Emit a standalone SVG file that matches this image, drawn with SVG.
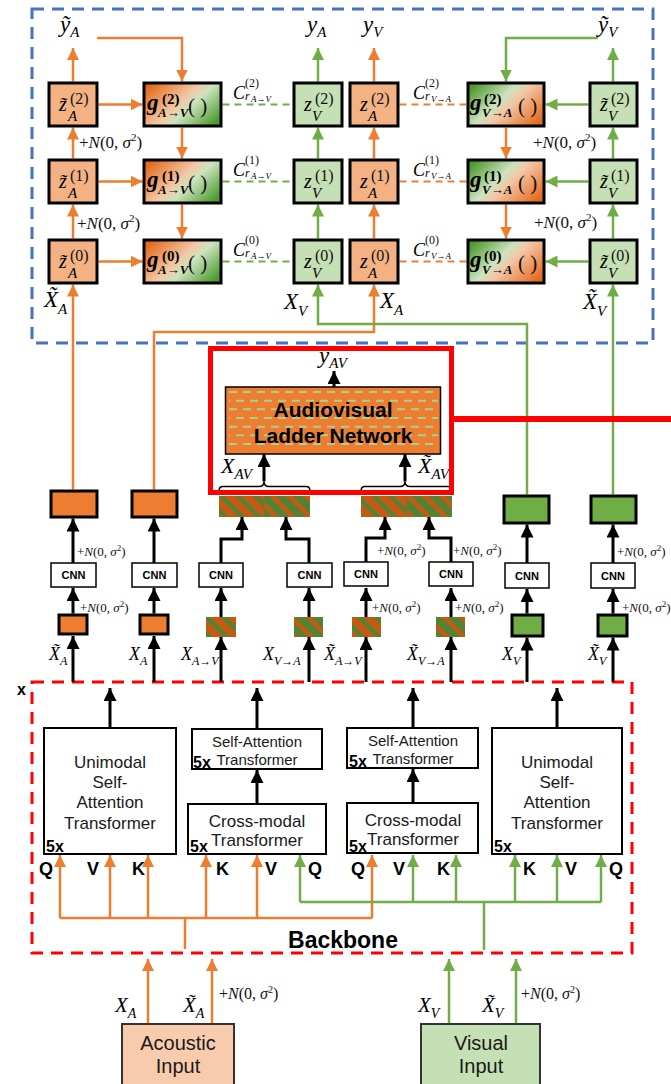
<svg xmlns="http://www.w3.org/2000/svg" width="671" height="1084" viewBox="0 0 671 1084">
<defs>
<style>
.m{font-family:"Liberation Serif","DejaVu Serif",serif;font-style:italic;fill:#000}
.pn{font-family:"Liberation Serif","DejaVu Serif",serif;font-style:normal;fill:#111}
.gb{font-family:"Liberation Serif","DejaVu Serif",serif;font-weight:bold;fill:#000}
.i{font-style:italic}
.s{font-family:"Liberation Sans",Arial,sans-serif;fill:#1a1a1a}
.sb{font-family:"Liberation Sans",Arial,sans-serif;font-weight:bold;fill:#000}
.bo{fill:#F4B183;stroke:#000;stroke-width:3}
.bg{fill:#C5E0B4;stroke:#000;stroke-width:3}
.so{fill:#ED7D31;stroke:#000;stroke-width:3}
.sg{fill:#70AD47;stroke:#000;stroke-width:3}
.lo{stroke:#ED7D31;stroke-width:2.5;fill:none;marker-end:url(#mo)}
.lg{stroke:#70AD47;stroke-width:2.5;fill:none;marker-end:url(#mg)}
.lon{stroke:#ED7D31;stroke-width:2.5;fill:none}
.lgn{stroke:#70AD47;stroke-width:2.5;fill:none}
.lk{stroke:#000;stroke-width:3;fill:none;marker-end:url(#mk)}
.do{stroke:#ED7D31;stroke-width:2;stroke-dasharray:7 5;fill:none}
.dg{stroke:#70AD47;stroke-width:2;stroke-dasharray:7 5;fill:none}
.cnn{fill:#fff;stroke:#000;stroke-width:1.5}
.tb{fill:#fff;stroke:#000;stroke-width:2}
.avd{stroke:#A9D18E;stroke-width:2;stroke-dasharray:8 6;fill:none}
</style>
<marker id="mo" viewBox="0 0 10 10" refX="10" refY="5" markerWidth="12" markerHeight="12" markerUnits="userSpaceOnUse" orient="auto"><path d="M0,0L10,5L0,10z" fill="#ED7D31"/></marker>
<marker id="mg" viewBox="0 0 10 10" refX="10" refY="5" markerWidth="12" markerHeight="12" markerUnits="userSpaceOnUse" orient="auto"><path d="M0,0L10,5L0,10z" fill="#70AD47"/></marker>
<marker id="mk" viewBox="0 0 10 10" refX="10" refY="5" markerWidth="13" markerHeight="13" markerUnits="userSpaceOnUse" orient="auto"><path d="M0,0L10,5L0,10z" fill="#000"/></marker>
<linearGradient id="gAV" x1="0" y1="0.2" x2="1" y2="0.8">
<stop offset="0" stop-color="#E46C1E"/><stop offset="0.45" stop-color="#F3C7A6"/><stop offset="0.6" stop-color="#CDE3BF"/><stop offset="1" stop-color="#4E9A2E"/>
</linearGradient>
<linearGradient id="gVA" x1="0" y1="0.2" x2="1" y2="0.8">
<stop offset="0" stop-color="#4E9A2E"/><stop offset="0.4" stop-color="#CDE3BF"/><stop offset="0.55" stop-color="#F3C7A6"/><stop offset="1" stop-color="#E46C1E"/>
</linearGradient>
<pattern id="pso" width="12" height="12" patternUnits="userSpaceOnUse" patternTransform="rotate(45)"><rect width="12" height="12" fill="#C55A11"/><rect width="12" height="4.5" fill="#548235"/></pattern>
<pattern id="psg" width="12" height="12" patternUnits="userSpaceOnUse" patternTransform="rotate(45)"><rect width="12" height="12" fill="#548235"/><rect width="12" height="4.5" fill="#C55A11"/></pattern>
</defs>
<rect width="671" height="1084" fill="#fff"/>

<!-- frames -->
<g id="ladder-frame"><rect x="32" y="9" width="621" height="334" fill="none" stroke="#4472C4" stroke-width="3" stroke-dasharray="12 8"/></g>
<g id="backbone-frame"><rect x="32" y="682" width="600" height="271" fill="none" stroke="#FF0000" stroke-width="3" stroke-dasharray="12 8"/>
<text class="sb" x="17" y="695" font-size="16">x</text>
<text class="sb" x="343" y="948" font-size="23" text-anchor="middle">Backbone</text></g>

<!-- connectors -->
<g id="connectors">
<path class="lo" d="M73,238.5V204.5"/><path class="lo" d="M73,158.5V127.5"/><path class="lo" d="M73,81.5V48"/>
<path class="lo" d="M73,489.5V284.5"/>
<path class="lo" d="M98.5,104.5H142.5"/><path class="lo" d="M98.5,181.5H142.5"/><path class="lo" d="M98.5,261.5H142.5"/>
<path class="lo" d="M97,38H182V81.5"/>
<path class="lo" d="M182,127.5V158.5"/><path class="lo" d="M182,204.5V238.5"/>
<path class="lo" d="M374,238.5V204.5"/><path class="lo" d="M374,158.5V127.5"/><path class="lo" d="M374,81.5V48"/>
<path class="lo" d="M154,489.5V332H374V284.5"/>
<path class="lo" d="M506,127.5V158.5"/><path class="lo" d="M506,204.5V238.5"/>
<path class="lg" d="M318,238.5V204.5"/><path class="lg" d="M318,158.5V127.5"/><path class="lg" d="M318,81.5V48"/>
<path class="lg" d="M527,494.5V324H318V284.5"/>
<path class="lg" d="M598,38H506V81.5"/>
<path class="lg" d="M588.5,104.5H545.5"/><path class="lg" d="M588.5,181.5H545.5"/><path class="lg" d="M588.5,261.5H545.5"/>
<path class="lg" d="M613,238.5V204.5"/><path class="lg" d="M613,158.5V127.5"/><path class="lg" d="M613,81.5V48"/>
<path class="lg" d="M613,494.5V284.5"/>
<path class="dg" d="M222.5,104.5H292.5"/><path class="dg" d="M222.5,181.5H292.5"/><path class="dg" d="M222.5,261.5H292.5"/>
<path class="do" d="M399.5,104.5H466.5"/><path class="do" d="M399.5,181.5H466.5"/><path class="do" d="M399.5,261.5H466.5"/>
<path class="lk" d="M334,387V371"/>
<path class="lk" d="M264,481.5V454"/><path class="lk" d="M405,481.5V454"/>
<path d="M219,491Q219,486.5 223,486.5H259Q264,486.5 264,481.5Q264,486.5 269,486.5H306Q310,486.5 310,491" fill="none" stroke="#000" stroke-width="1.5"/>
<path d="M361,491Q361,486.5 365,486.5H400Q405,486.5 405,481.5Q405,486.5 410,486.5H448Q452,486.5 452,491" fill="none" stroke="#000" stroke-width="1.5"/>
<path class="lk" d="M73,682V636"/><path class="lk" d="M73,613.5V588"/><path class="lk" d="M73,563V518.5"/>
<path class="lk" d="M154,682V636"/><path class="lk" d="M154,613.5V588"/><path class="lk" d="M154,563V518.5"/>
<path class="lk" d="M221,682V637"/><path class="lk" d="M221,617V588"/><path class="lk" d="M221,563V539H242V517"/>
<path class="lk" d="M309,682V637"/><path class="lk" d="M309,617V588"/><path class="lk" d="M309,563V539H286V517"/>
<path class="lk" d="M366,682V637"/><path class="lk" d="M366,617V588"/><path class="lk" d="M366,563V538H385V517"/>
<path class="lk" d="M451,682V637"/><path class="lk" d="M451,617V588"/><path class="lk" d="M451,563V538H429V517"/>
<path class="lk" d="M527,682V637.5"/><path class="lk" d="M527,613.5V589"/><path class="lk" d="M527,563V524.5"/>
<path class="lk" d="M613,682V637.5"/><path class="lk" d="M613,613.5V589"/><path class="lk" d="M613,563V524.5"/>
<path class="lk" d="M110,727V688"/><path class="lk" d="M257,728V688"/><path class="lk" d="M257,803V770"/>
<path class="lk" d="M413,727V688"/><path class="lk" d="M413,802V769"/><path class="lk" d="M557,727V688"/>
<path class="lon" d="M185,949V918M60,918H372"/>
<path class="lo" d="M60,918V855"/><path class="lo" d="M110,918V855"/><path class="lo" d="M148,918V855"/><path class="lo" d="M206,918V855"/><path class="lo" d="M257,918V855"/><path class="lo" d="M372,918V855"/>
<path class="lgn" d="M484,950V902M300,902H601"/>
<path class="lg" d="M300,902V855"/><path class="lg" d="M413,902V855"/><path class="lg" d="M456,902V855"/><path class="lg" d="M515,902V855"/><path class="lg" d="M557,902V855"/><path class="lg" d="M601,902V855"/>
<path class="lo" d="M148,1023V959"/><path class="lo" d="M212,1023V959"/>
<path class="lg" d="M449,1023V959"/><path class="lg" d="M516,1023V959"/>
</g>

<g id="ladder-labels">
<text class="m" x="60" y="32" font-size="23">ỹ<tspan font-size="15" dy="5">A</tspan></text>
<text class="m" x="307" y="32" font-size="23">y<tspan font-size="15" dy="5">A</tspan></text>
<text class="m" x="363" y="32" font-size="23">y<tspan font-size="15" dy="5">V</tspan></text>
<text class="m" x="598" y="32" font-size="23">ỹ<tspan font-size="15" dy="5">V</tspan></text>
<text class="m" x="44" y="307" font-size="23">X&#x303;<tspan font-size="15" dy="7">A</tspan></text>
<text class="m" x="284" y="309" font-size="23">X<tspan font-size="15" dy="7">V</tspan></text>
<text class="m" x="380" y="308" font-size="23">X<tspan font-size="15" dy="7">A</tspan></text>
<text class="m" x="583" y="309" font-size="23">X&#x303;<tspan font-size="15" dy="7">V</tspan></text>
<text class="pn" x="79" y="148" font-size="17">+<tspan class="i">N</tspan>(0, <tspan class="i">σ</tspan><tspan font-size="11" dy="-7">2</tspan><tspan dy="7">)</tspan></text>
<text class="pn" x="77" y="229" font-size="17">+<tspan class="i">N</tspan>(0, <tspan class="i">σ</tspan><tspan font-size="11" dy="-7">2</tspan><tspan dy="7">)</tspan></text>
<text class="pn" x="533" y="148" font-size="17">+<tspan class="i">N</tspan>(0, <tspan class="i">σ</tspan><tspan font-size="11" dy="-7">2</tspan><tspan dy="7">)</tspan></text>
<text class="pn" x="534" y="228" font-size="17">+<tspan class="i">N</tspan>(0, <tspan class="i">σ</tspan><tspan font-size="11" dy="-7">2</tspan><tspan dy="7">)</tspan></text>
<text class="m" x="233" y="99" font-size="18">C</text><text class="pn" x="245" y="87" font-size="12">(2)</text><text class="m" x="245" y="100" font-size="12">r</text><text class="m" x="251" y="102" font-size="9">A→V</text>
<text class="m" x="233" y="176" font-size="18">C</text><text class="pn" x="245" y="164" font-size="12">(1)</text><text class="m" x="245" y="177" font-size="12">r</text><text class="m" x="251" y="179" font-size="9">A→V</text>
<text class="m" x="233" y="256" font-size="18">C</text><text class="pn" x="245" y="244" font-size="12">(0)</text><text class="m" x="245" y="257" font-size="12">r</text><text class="m" x="251" y="259" font-size="9">A→V</text>
<text class="m" x="413" y="99" font-size="18">C</text><text class="pn" x="425" y="87" font-size="12">(2)</text><text class="m" x="425" y="100" font-size="12">r</text><text class="m" x="431" y="102" font-size="9">V→A</text>
<text class="m" x="413" y="176" font-size="18">C</text><text class="pn" x="425" y="164" font-size="12">(1)</text><text class="m" x="425" y="177" font-size="12">r</text><text class="m" x="431" y="179" font-size="9">V→A</text>
<text class="m" x="413" y="256" font-size="18">C</text><text class="pn" x="425" y="244" font-size="12">(0)</text><text class="m" x="425" y="257" font-size="12">r</text><text class="m" x="431" y="259" font-size="9">V→A</text>
</g>

<g id="zA2t"><rect class="bo" x="49" y="83" width="48" height="43"/><text class="m" x="59" y="111" font-size="20">z&#x303;</text><text class="pn" x="70" y="103.5" font-size="16">(2)</text><text class="m" x="68" y="121" font-size="15">A</text></g>
<g id="gAV2"><rect x="144" y="83" width="77" height="43" fill="url(#gAV)" stroke="#000" stroke-width="3"/><text class="gb i" x="147" y="110" font-size="23">g</text><text class="gb" x="162" y="104" font-size="15">(2)</text><text class="gb i" x="158" y="117" font-size="13">A→V</text><text class="pn" x="188" y="112.5" font-size="21">( )</text></g>
<g id="zV2"><rect class="bg" x="294" y="83" width="48" height="43"/><text class="m" x="304" y="111" font-size="20">z</text><text class="pn" x="315" y="103.5" font-size="16">(2)</text><text class="m" x="312" y="121" font-size="15">V</text></g>
<g id="zA2"><rect class="bo" x="350" y="83" width="48" height="43"/><text class="m" x="360" y="111" font-size="20">z</text><text class="pn" x="371" y="103.5" font-size="16">(2)</text><text class="m" x="368" y="121" font-size="15">A</text></g>
<g id="gVA2"><rect x="468" y="83" width="76" height="43" fill="url(#gVA)" stroke="#000" stroke-width="3"/><text class="gb i" x="470" y="110" font-size="23">g</text><text class="gb" x="484" y="104" font-size="15">(2)</text><text class="gb i" x="482" y="117" font-size="13">V→A</text><text class="pn" x="518" y="112.5" font-size="21">( )</text></g>
<g id="zV2t"><rect class="bg" x="590" y="83" width="47" height="43"/><text class="m" x="600" y="111" font-size="20">z&#x303;</text><text class="pn" x="611" y="103.5" font-size="16">(2)</text><text class="m" x="608" y="121" font-size="15">V</text></g>
<g id="zA1t"><rect class="bo" x="49" y="160" width="48" height="43"/><text class="m" x="59" y="188" font-size="20">z&#x303;</text><text class="pn" x="70" y="180.5" font-size="16">(1)</text><text class="m" x="68" y="198" font-size="15">A</text></g>
<g id="gAV1"><rect x="144" y="160" width="77" height="43" fill="url(#gAV)" stroke="#000" stroke-width="3"/><text class="gb i" x="147" y="187" font-size="23">g</text><text class="gb" x="162" y="181" font-size="15">(1)</text><text class="gb i" x="158" y="194" font-size="13">A→V</text><text class="pn" x="188" y="189.5" font-size="21">( )</text></g>
<g id="zV1"><rect class="bg" x="294" y="160" width="48" height="43"/><text class="m" x="304" y="188" font-size="20">z</text><text class="pn" x="315" y="180.5" font-size="16">(1)</text><text class="m" x="312" y="198" font-size="15">V</text></g>
<g id="zA1"><rect class="bo" x="350" y="160" width="48" height="43"/><text class="m" x="360" y="188" font-size="20">z</text><text class="pn" x="371" y="180.5" font-size="16">(1)</text><text class="m" x="368" y="198" font-size="15">A</text></g>
<g id="gVA1"><rect x="468" y="160" width="76" height="43" fill="url(#gVA)" stroke="#000" stroke-width="3"/><text class="gb i" x="470" y="187" font-size="23">g</text><text class="gb" x="484" y="181" font-size="15">(1)</text><text class="gb i" x="482" y="194" font-size="13">V→A</text><text class="pn" x="518" y="189.5" font-size="21">( )</text></g>
<g id="zV1t"><rect class="bg" x="590" y="160" width="47" height="43"/><text class="m" x="600" y="188" font-size="20">z&#x303;</text><text class="pn" x="611" y="180.5" font-size="16">(1)</text><text class="m" x="608" y="198" font-size="15">V</text></g>
<g id="zA0t"><rect class="bo" x="49" y="240" width="48" height="43"/><text class="m" x="59" y="268" font-size="20">z&#x303;</text><text class="pn" x="70" y="260.5" font-size="16">(0)</text><text class="m" x="68" y="278" font-size="15">A</text></g>
<g id="gAV0"><rect x="144" y="240" width="77" height="43" fill="url(#gAV)" stroke="#000" stroke-width="3"/><text class="gb i" x="147" y="267" font-size="23">g</text><text class="gb" x="162" y="261" font-size="15">(0)</text><text class="gb i" x="158" y="274" font-size="13">A→V</text><text class="pn" x="188" y="269.5" font-size="21">( )</text></g>
<g id="zV0"><rect class="bg" x="294" y="240" width="48" height="43"/><text class="m" x="304" y="268" font-size="20">z</text><text class="pn" x="315" y="260.5" font-size="16">(0)</text><text class="m" x="312" y="278" font-size="15">V</text></g>
<g id="zA0"><rect class="bo" x="350" y="240" width="48" height="43"/><text class="m" x="360" y="268" font-size="20">z</text><text class="pn" x="371" y="260.5" font-size="16">(0)</text><text class="m" x="368" y="278" font-size="15">A</text></g>
<g id="gVA0"><rect x="468" y="240" width="76" height="43" fill="url(#gVA)" stroke="#000" stroke-width="3"/><text class="gb i" x="470" y="267" font-size="23">g</text><text class="gb" x="484" y="261" font-size="15">(0)</text><text class="gb i" x="482" y="274" font-size="13">V→A</text><text class="pn" x="518" y="269.5" font-size="21">( )</text></g>
<g id="zV0t"><rect class="bg" x="590" y="240" width="47" height="43"/><text class="m" x="600" y="268" font-size="20">z&#x303;</text><text class="pn" x="611" y="260.5" font-size="16">(0)</text><text class="m" x="608" y="278" font-size="15">V</text></g>

<g id="av-ladder">
<rect x="225.5" y="387" width="215" height="67" fill="#ED7D31" stroke="#000" stroke-width="1.5"/>
<path class="avd" d="M229,392H438M229,409.3H438M229,426.7H438M229,444H438"/>
<path class="avd" stroke-dashoffset="7" d="M229,400.7H438M229,418H438M229,435.3H438"/>
<text class="sb" x="333" y="417" font-size="21" text-anchor="middle">Audiovisual</text>
<text class="sb" x="333" y="443" font-size="21" text-anchor="middle">Ladder Network</text>
</g>
<g id="av-labels">
<text class="m" x="319" y="363" font-size="23">y<tspan font-size="15" dy="5">AV</tspan></text>
<text class="m" x="221" y="473" font-size="22">X<tspan font-size="15" dy="6">AV</tspan></text>
<text class="m" x="418" y="473" font-size="22">X&#x303;<tspan font-size="15" dy="6">AV</tspan></text>
</g>
<g id="xav-feat"><rect x="219" y="496" width="45" height="21" fill="url(#pso)"/><rect x="264" y="496" width="46" height="21" fill="url(#psg)"/></g>
<g id="xavt-feat"><rect x="361" y="496" width="46" height="21" fill="url(#pso)"/><rect x="407" y="496" width="45" height="21" fill="url(#psg)"/></g>
<g id="highlight"><rect x="210.5" y="348.5" width="241" height="144" fill="none" stroke="#FF0000" stroke-width="5"/><path d="M453,419H671" stroke="#FF0000" stroke-width="6"/></g>

<g id="featA-t"><rect class="so" x="51" y="491" width="46" height="26"/></g>
<g id="featA"><rect class="so" x="132" y="491" width="45" height="26"/></g>
<g id="featV"><rect class="sg" x="504" y="496" width="45" height="27"/></g>
<g id="featV-t"><rect class="sg" x="591" y="496" width="45" height="27"/></g>

<g id="cnn1"><rect class="cnn" x="51" y="563" width="45" height="24"/><text class="sb" x="73.5" y="579" font-size="11" text-anchor="middle">CNN</text></g>
<g id="cnn2"><rect class="cnn" x="132" y="563" width="45" height="24"/><text class="sb" x="154.5" y="579" font-size="11" text-anchor="middle">CNN</text></g>
<g id="cnn3"><rect class="cnn" x="199" y="563" width="44" height="24"/><text class="sb" x="221" y="579" font-size="11" text-anchor="middle">CNN</text></g>
<g id="cnn4"><rect class="cnn" x="287" y="563" width="45" height="24"/><text class="sb" x="309.5" y="579" font-size="11" text-anchor="middle">CNN</text></g>
<g id="cnn5"><rect class="cnn" x="344" y="562" width="44" height="24"/><text class="sb" x="366" y="578" font-size="11" text-anchor="middle">CNN</text></g>
<g id="cnn6"><rect class="cnn" x="429" y="562" width="44" height="24"/><text class="sb" x="451" y="578" font-size="11" text-anchor="middle">CNN</text></g>
<g id="cnn7"><rect class="cnn" x="505" y="563" width="44" height="25"/><text class="sb" x="527" y="580" font-size="11" text-anchor="middle">CNN</text></g>
<g id="cnn8"><rect class="cnn" x="591" y="563" width="44" height="25"/><text class="sb" x="613" y="580" font-size="11" text-anchor="middle">CNN</text></g>

<g id="in1"><rect class="so" x="59" y="615" width="28" height="19"/></g>
<g id="in2"><rect class="so" x="140" y="615" width="28" height="19"/></g>
<g id="in3"><rect x="206" y="617" width="30" height="20" fill="url(#pso)"/></g>
<g id="in4"><rect x="294" y="617" width="29" height="20" fill="url(#psg)"/></g>
<g id="in5"><rect x="352" y="617" width="29" height="20" fill="url(#pso)"/></g>
<g id="in6"><rect x="436" y="617" width="29" height="20" fill="url(#psg)"/></g>
<g id="in7"><rect class="sg" x="512" y="615" width="31" height="21"/></g>
<g id="in8"><rect class="sg" x="598" y="615" width="29" height="21"/></g>

<g id="feat-labels">
<text class="m" x="49" y="660" font-size="18">X&#x303;<tspan font-size="12" dy="5">A</tspan></text>
<text class="m" x="129" y="660" font-size="18">X<tspan font-size="12" dy="5">A</tspan></text>
<text class="m" x="181" y="660" font-size="18">X<tspan font-size="12" dy="5">A→V</tspan></text>
<text class="m" x="263" y="660" font-size="18">X<tspan font-size="12" dy="5">V→A</tspan></text>
<text class="m" x="324" y="660" font-size="18">X&#x303;<tspan font-size="12" dy="5">A→V</tspan></text>
<text class="m" x="407" y="660" font-size="18">X&#x303;<tspan font-size="12" dy="5">V→A</tspan></text>
<text class="m" x="502" y="660" font-size="18">X<tspan font-size="12" dy="5">V</tspan></text>
<text class="m" x="588" y="660" font-size="18">X&#x303;<tspan font-size="12" dy="5">V</tspan></text>
<text class="pn" x="77" y="556" font-size="13">+<tspan class="i">N</tspan>(0, <tspan class="i">σ</tspan><tspan font-size="9" dy="-5">2</tspan><tspan dy="5">)</tspan></text>
<text class="pn" x="80" y="612" font-size="13">+<tspan class="i">N</tspan>(0, <tspan class="i">σ</tspan><tspan font-size="9" dy="-5">2</tspan><tspan dy="5">)</tspan></text>
<text class="pn" x="377" y="555" font-size="13">+<tspan class="i">N</tspan>(0, <tspan class="i">σ</tspan><tspan font-size="9" dy="-5">2</tspan><tspan dy="5">)</tspan></text>
<text class="pn" x="453" y="555" font-size="13">+<tspan class="i">N</tspan>(0, <tspan class="i">σ</tspan><tspan font-size="9" dy="-5">2</tspan><tspan dy="5">)</tspan></text>
<text class="pn" x="372" y="612" font-size="13">+<tspan class="i">N</tspan>(0, <tspan class="i">σ</tspan><tspan font-size="9" dy="-5">2</tspan><tspan dy="5">)</tspan></text>
<text class="pn" x="455" y="612" font-size="13">+<tspan class="i">N</tspan>(0, <tspan class="i">σ</tspan><tspan font-size="9" dy="-5">2</tspan><tspan dy="5">)</tspan></text>
<text class="pn" x="617" y="556" font-size="13">+<tspan class="i">N</tspan>(0, <tspan class="i">σ</tspan><tspan font-size="9" dy="-5">2</tspan><tspan dy="5">)</tspan></text>
<text class="pn" x="622" y="612" font-size="13">+<tspan class="i">N</tspan>(0, <tspan class="i">σ</tspan><tspan font-size="9" dy="-5">2</tspan><tspan dy="5">)</tspan></text>
</g>

<g id="uniA"><rect class="tb" x="44" y="728" width="132" height="126"/>
<text class="s" font-size="17" text-anchor="middle"><tspan x="110" y="768">Unimodal</tspan><tspan x="110" y="788">Self-</tspan><tspan x="110" y="808">Attention</tspan><tspan x="110" y="829">Transformer</tspan></text>
<text class="sb" x="46" y="852" font-size="16">5x</text></g>
<g id="saAV"><rect class="tb" x="192" y="729" width="130" height="40"/>
<text class="s" font-size="15" text-anchor="middle"><tspan x="257" y="747">Self-Attention</tspan><tspan x="257" y="765">Transformer</tspan></text>
<text class="sb" x="193" y="768" font-size="16">5x</text></g>
<g id="cmAV"><rect class="tb" x="188" y="804" width="138" height="50"/>
<text class="s" font-size="17" text-anchor="middle"><tspan x="257" y="827">Cross-modal</tspan><tspan x="257" y="846">Transformer</tspan></text>
<text class="sb" x="190" y="852" font-size="16">5x</text></g>
<g id="saVA"><rect class="tb" x="347" y="728" width="131" height="40"/>
<text class="s" font-size="15" text-anchor="middle"><tspan x="413" y="746">Self-Attention</tspan><tspan x="413" y="764">Transformer</tspan></text>
<text class="sb" x="349" y="767" font-size="16">5x</text></g>
<g id="cmVA"><rect class="tb" x="347" y="803" width="131" height="50"/>
<text class="s" font-size="17" text-anchor="middle"><tspan x="413" y="826">Cross-modal</tspan><tspan x="413" y="845">Transformer</tspan></text>
<text class="sb" x="349" y="852" font-size="16">5x</text></g>
<g id="uniV"><rect class="tb" x="492" y="728" width="130" height="126"/>
<text class="s" font-size="17" text-anchor="middle"><tspan x="557" y="768">Unimodal</tspan><tspan x="557" y="788">Self-</tspan><tspan x="557" y="808">Attention</tspan><tspan x="557" y="829">Transformer</tspan></text>
<text class="sb" x="494" y="852" font-size="16">5x</text></g>
<g id="qvk">
<text class="sb" x="39" y="875" font-size="18">Q</text><text class="sb" x="87" y="875" font-size="18">V</text><text class="sb" x="132" y="875" font-size="18">K</text>
<text class="sb" x="216" y="875" font-size="18">K</text><text class="sb" x="265" y="875" font-size="18">V</text><text class="sb" x="308" y="875" font-size="18">Q</text>
<text class="sb" x="351" y="875" font-size="18">Q</text><text class="sb" x="393" y="875" font-size="18">V</text><text class="sb" x="437" y="875" font-size="18">K</text>
<text class="sb" x="523" y="875" font-size="18">K</text><text class="sb" x="565" y="875" font-size="18">V</text><text class="sb" x="609" y="875" font-size="18">Q</text>
</g>

<g id="acoustic"><rect x="122" y="1024" width="112" height="70" fill="#F8CBAD" stroke="#333" stroke-width="2"/>
<text class="s" font-size="20" text-anchor="middle"><tspan x="178" y="1050">Acoustic</tspan><tspan x="178" y="1073">Input</tspan></text></g>
<g id="visual"><rect x="421" y="1024" width="119" height="70" fill="#C5E0B4" stroke="#333" stroke-width="2"/>
<text class="s" font-size="20" text-anchor="middle"><tspan x="481" y="1050">Visual</tspan><tspan x="481" y="1073">Input</tspan></text></g>
<g id="input-labels">
<text class="m" x="115" y="1012" font-size="21">X<tspan font-size="14" dy="6">A</tspan></text>
<text class="m" x="183" y="1012" font-size="21">X&#x303;<tspan font-size="14" dy="6">A</tspan></text>
<text class="pn" x="219" y="999" font-size="16">+<tspan class="i">N</tspan>(0, <tspan class="i">σ</tspan><tspan font-size="10" dy="-6">2</tspan><tspan dy="6">)</tspan></text>
<text class="m" x="418" y="1012" font-size="21">X<tspan font-size="14" dy="6">V</tspan></text>
<text class="m" x="482" y="1012" font-size="21">X&#x303;<tspan font-size="14" dy="6">V</tspan></text>
<text class="pn" x="521" y="999" font-size="16">+<tspan class="i">N</tspan>(0, <tspan class="i">σ</tspan><tspan font-size="10" dy="-6">2</tspan><tspan dy="6">)</tspan></text>
</g>
</svg>
